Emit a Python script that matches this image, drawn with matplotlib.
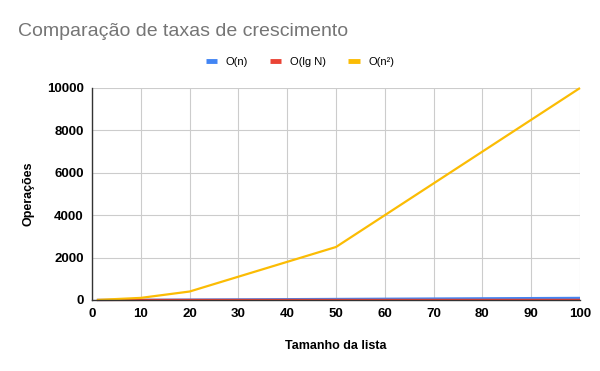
import matplotlib
matplotlib.use("Agg")
import matplotlib.pyplot as plt
import numpy as np

plt.rcParams['font.family'] = ['Liberation Sans', 'DejaVu Sans']

sizes = [1, 10, 20, 50, 100]
o_n = [1, 10, 20, 50, 100]
o_lg = [0, 3.32, 4.32, 5.64, 6.64]
o_n2 = [1, 100, 400, 2500, 10000]

series = [("O(n)", o_n, "#4285F4"), ("O(lg N)", o_lg, "#EA4335"), ("O(n²)", o_n2, "#FBBC04")]

fig = plt.figure(figsize=(6, 3.71), dpi=100)
ax = fig.add_axes([92/600, 1-300/371, (580-92)/600, (300-88)/371])

for name, vals, col in series:
    ax.plot(sizes, vals, color=col, lw=1.6, label=name, solid_capstyle='butt', clip_on=False)

ax.set_xlim(0, 100)
ax.set_ylim(0, 10000)
ax.set_xticks(np.arange(0, 101, 10))
ax.set_yticks(np.arange(0, 10001, 2000))
ax.grid(True, color="#cccccc", lw=0.8)
ax.set_axisbelow(True)
for s in ["top", "right"]:
    ax.spines[s].set_visible(False)
for s in ["left", "bottom"]:
    ax.spines[s].set_color("#333333")
    ax.spines[s].set_linewidth(1)
ax.tick_params(axis='both', length=0, labelsize=9.5, labelcolor="#000000")
ax.tick_params(axis='x', pad=6)
ax.tick_params(axis='y', pad=6)
for lab in ax.get_xticklabels() + ax.get_yticklabels():
    lab.set_fontweight('bold')

ax.set_xlabel("Tamanho da lista", fontsize=9, fontweight='bold', labelpad=14)
ax.set_ylabel("Operações", fontsize=9, fontweight='bold', labelpad=9)

fig.text(18/600, 1-32/371, "Comparação de taxas de crescimento", fontsize=14, color="#757575", va='center', ha='left')

handles = [plt.Line2D([0], [0], color=c, lw=3.5, solid_capstyle='butt') for _, _, c in series]
fig.legend(handles, [n for n, _, _ in series], loc='center', bbox_to_anchor=(300/600, 1-62/371),
           ncol=3, frameon=False, fontsize=8, handlelength=1.0, handletextpad=0.8, columnspacing=2.0)

fig.savefig("out.png", dpi=100)
